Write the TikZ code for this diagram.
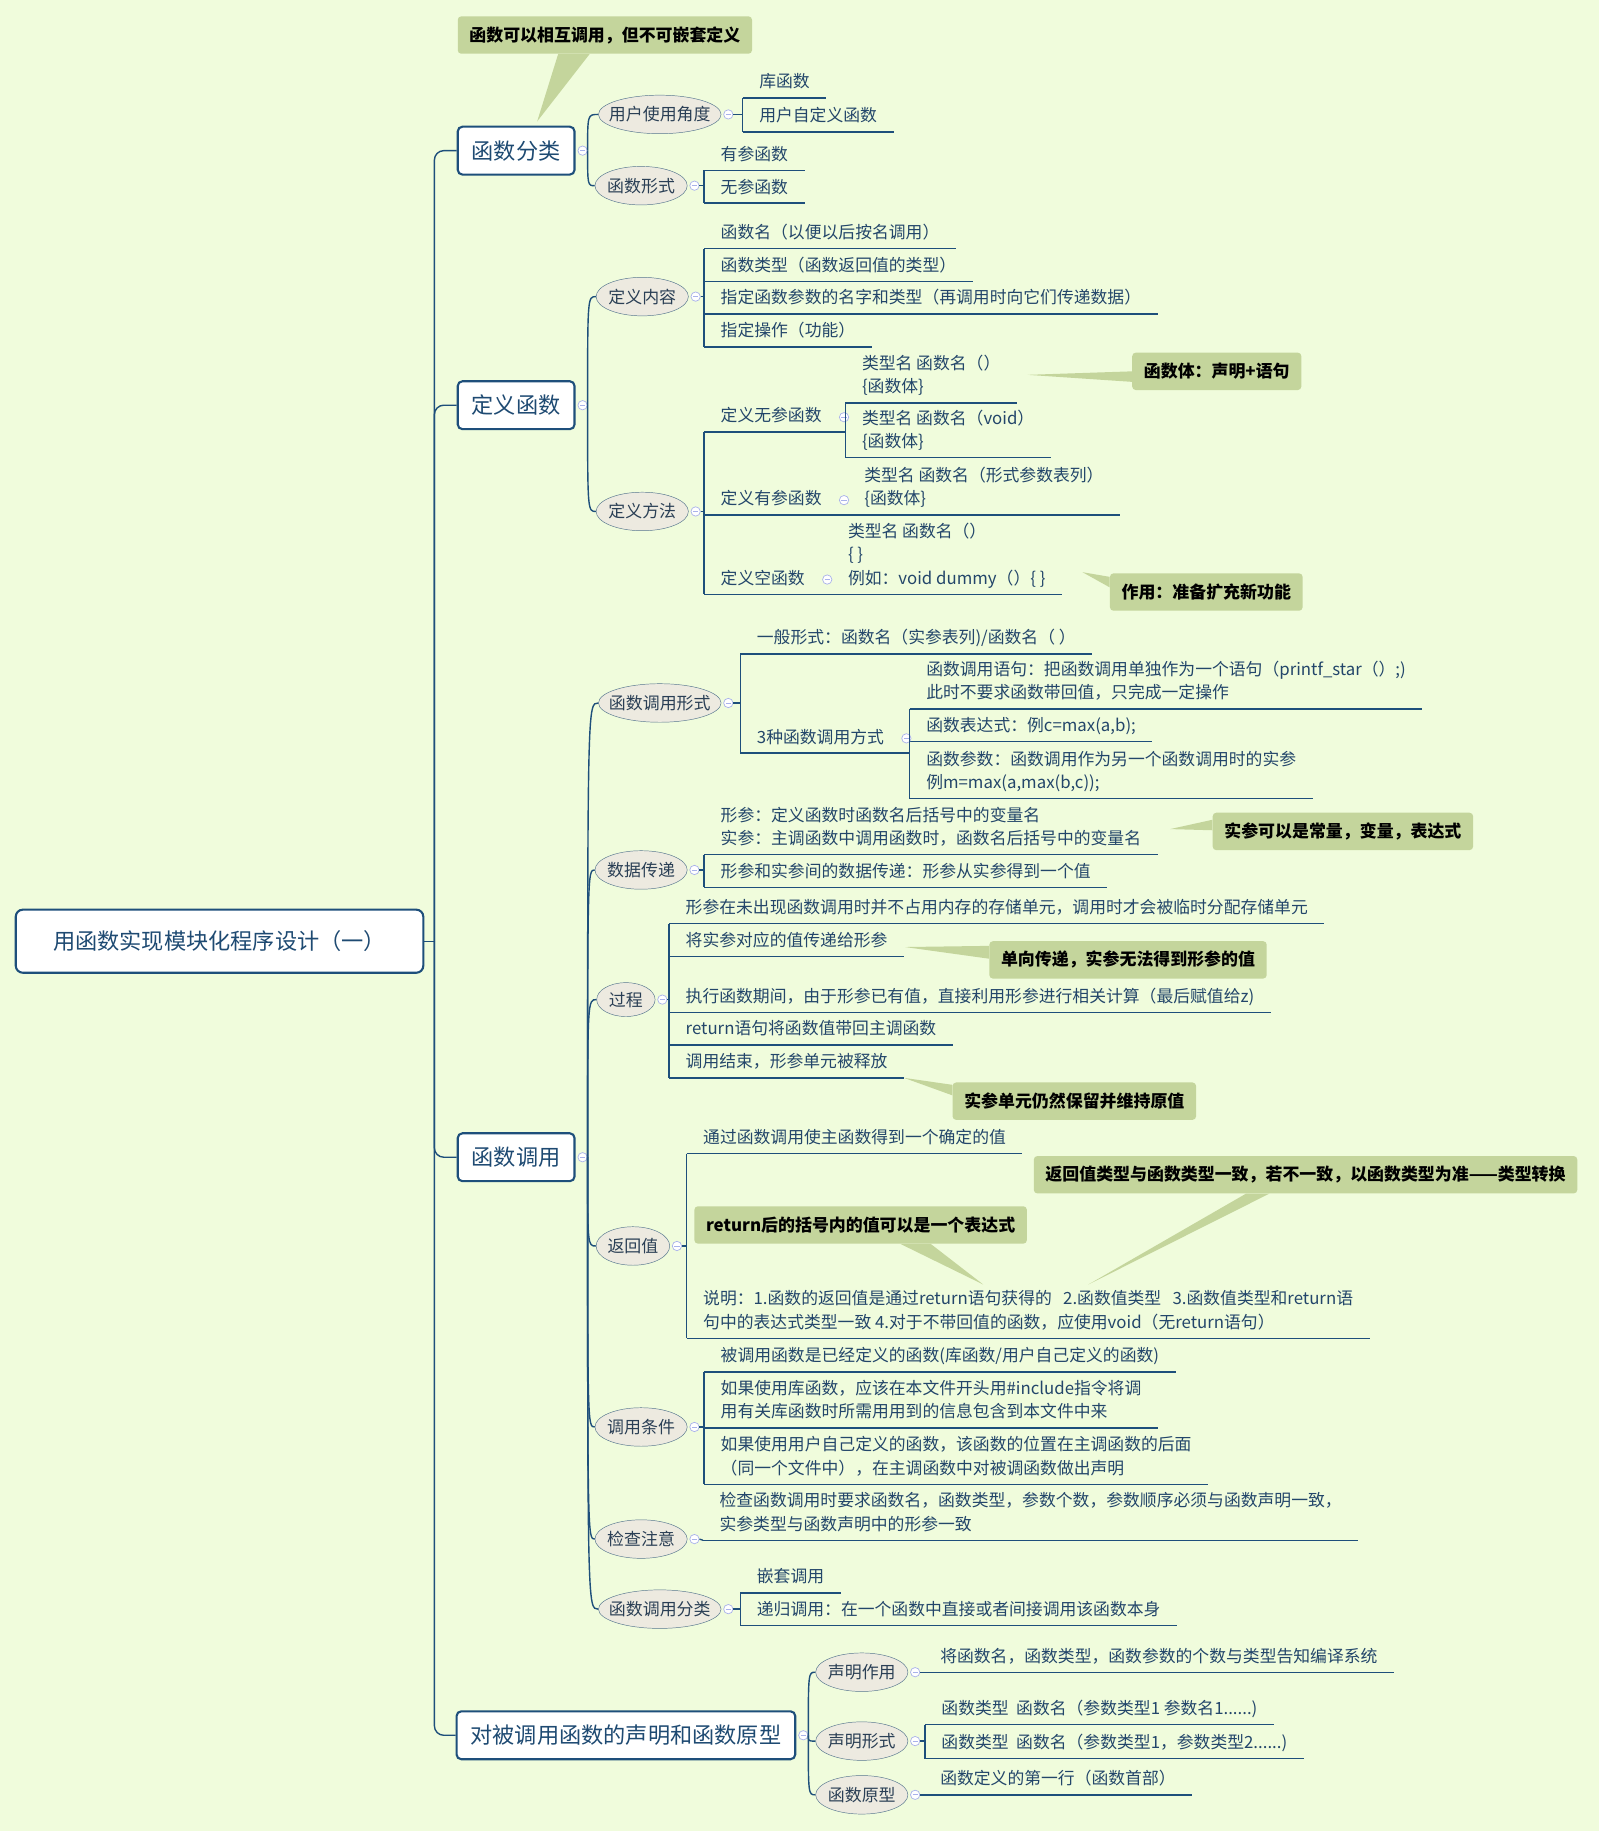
\documentclass[tikz,border=0pt]{standalone}
\usepackage{fontspec}
\setmainfont{Noto Sans CJK SC}
\usetikzlibrary{shapes.geometric, calc}
\definecolor{mapbg}{HTML}{F0FCDC}
\definecolor{mapline}{HTML}{1E4F7B}
\definecolor{topictext}{HTML}{1E4A72}
\definecolor{leaftext}{HTML}{23466A}
\definecolor{ellfill}{HTML}{EDEAE0}
\definecolor{ellborder}{HTML}{56768E}
\definecolor{elltext}{HTML}{2A3F55}
\definecolor{notefill}{HTML}{C4D59C}
\definecolor{foldline}{HTML}{A9B2EA}

\begin{document}
\begin{tikzpicture}[x=1pt, y=-1pt,
    rootbox/.style={rectangle, rounded corners=6pt, draw=mapline, line width=1.8pt, fill=white, text=topictext, font=\fontsize{19}{24}\selectfont, minimum width=349pt, minimum height=54pt},
    topic/.style={rectangle, rounded corners=4pt, draw=mapline, line width=1.8pt, fill=white, text=topictext, font=\fontsize{19}{24}\selectfont, minimum height=41pt, inner xsep=12pt},
    sub/.style={ellipse, draw=ellborder, fill=ellfill, text=elltext, font=\fontsize{14.5}{18}\selectfont, inner xsep=-7pt, inner ysep=0pt, minimum height=33pt, minimum width=#1},
    sub/.default=79pt,
    link/.style={draw=mapline, line width=1.2pt},
    leaf/.style={anchor=south west, inner xsep=14pt, inner ysep=2.5pt, align=left, text=leaftext, font=\fontsize{14.4}{20}\selectfont, execute at begin node=\strut, execute at end node=\strut, append after command={(\tikzlastnode.south west) edge[link] (\tikzlastnode.south east)}},
    fold/.style={circle, draw=foldline, fill=white, line width=0.6pt, inner sep=0pt, minimum size=8pt, path picture={\draw[foldline, line width=0.6pt] ([xshift=-2.2pt]path picture bounding box.center) -- ([xshift=2.2pt]path picture bounding box.center);}},
    note/.style={rectangle, rounded corners=3pt, fill=notefill, text=black, font=\bfseries\fontsize{14.5}{18}\selectfont, inner xsep=10pt, minimum height=32pt},
  ]
  \fill[mapbg] (0,0) rectangle (1369,1568);
  \useasboundingbox (0,0) rectangle (1369,1568);

  \node[rootbox] (root) at (188,806) {用函数实现模块化程序设计（一）};
  \node[topic] (tcls) at (442,129) {函数分类};
  \node[topic] (tdef) at (442,347) {定义函数};
  \node[topic] (tcall) at (442,991) {函数调用};
  \node[topic] (tdecl) at (536,1486) {对被调用函数的声明和函数原型};
  \coordinate (trunk) at (372,806);

  \node[sub=105pt] (yonghu) at (565,98) {用户使用角度};
  \node[sub] (xingshi) at (549,159) {函数形式};
  \node[sub] (neirong) at (550,254) {定义内容};
  \node[sub] (fangfa) at (550,438) {定义方法};
  \node[sub=105pt] (xsform) at (565,602) {函数调用形式};
  \node[sub] (chuandi) at (549,745) {数据传递};
  \node[sub=50pt, minimum height=29pt] (guocheng) at (536,856) {过程};
  \node[sub=63pt] (fanhui) at (542,1067) {返回值};
  \node[sub] (tiaojian) at (549,1222) {调用条件};
  \node[sub] (jiancha) at (549,1318) {检查注意};
  \node[sub=105pt] (fenlei) at (565,1378) {函数调用分类};
  \node[sub] (zuoyong) at (738,1432) {声明作用};
  \node[sub] (xsdecl) at (738,1491) {声明形式};
  \node[sub] (yuanxing) at (738,1537) {函数原型};

  \node[leaf] (a1) at (636,84) {库函数};
  \node[leaf] (a2) at (636,113) {用户自定义函数};
  \node[leaf] (a3) at (603,146) {有参函数};
  \node[leaf] (a4) at (603,174) {无参函数};

  \node[leaf] (b1) at (603,213) {函数名（以便以后按名调用）};
  \node[leaf] (b2) at (603,241) {函数类型（函数返回值的类型）};
  \node[leaf] (b3) at (603,269) {指定函数参数的名字和类型（再调用时向它们传递数据）};
  \node[leaf] (b4) at (603,297) {指定操作（功能）};
  \node[leaf] (b5) at (603,370) {定义无参函数};
  \node[leaf] (b51) at (724,345) {类型名 函数名（）\\\{函数体\}};
  \node[leaf] (b52) at (724,392) {类型名 函数名（void）\\\{函数体\}};
  \node[leaf] (b6) at (603,441) {定义有参函数};
  \node[leaf] (b61) at (726,441) {类型名 函数名（形式参数表列）\\\{函数体\}};
  \node[leaf] (b7) at (603,509) {定义空函数};
  \node[leaf] (b71) at (712,509) {类型名 函数名（）\\\{ \}\\例如：void dummy（）\{ \}};

  \node[leaf] (c1) at (634,560) {一般形式：函数名（实参表列)/函数名（ ）};
  \node[leaf] (c2) at (634,645) {3种函数调用方式};
  \node[leaf] (c21) at (779,607) {函数调用语句：把函数调用单独作为一个语句（printf\_star（）;)\\此时不要求函数带回值，只完成一定操作};
  \node[leaf] (c22) at (779,635) {函数表达式：例c=max(a,b);};
  \node[leaf] (c23) at (779,684) {函数参数：函数调用作为另一个函数调用时的实参\\例m=max(a,max(b,c));};

  \node[leaf] (d1) at (603,732) {形参：定义函数时函数名后括号中的变量名\\实参：主调函数中调用函数时，函数名后括号中的变量名};
  \node[leaf] (d2) at (603,760) {形参和实参间的数据传递：形参从实参得到一个值};

  \node[leaf] (g1) at (573,791) {形参在未出现函数调用时并不占用内存的存储单元，调用时才会被临时分配存储单元};
  \node[leaf] (g2) at (573,819) {将实参对应的值传递给形参};
  \node[leaf] (g3) at (573,867) {执行函数期间，由于形参已有值，直接利用形参进行相关计算（最后赋值给z)};
  \node[leaf] (g4) at (573,895) {return语句将函数值带回主调函数};
  \node[leaf] (g5) at (573,923) {调用结束，形参单元被释放};

  \node[leaf] (r1) at (588,988) {通过函数调用使主函数得到一个确定的值};
  \node[leaf] (r2) at (588,1146) {说明：1.函数的返回值是通过return语句获得的\ \ \ 2.函数值类型\ \ \ 3.函数值类型和return语\\句中的表达式类型一致 4.对于不带回值的函数，应使用void（无return语句）};

  \node[leaf] (q1) at (603,1175) {被调用函数是已经定义的函数(库函数/用户自己定义的函数)};
  \node[leaf] (q2) at (603,1223) {如果使用库函数，应该在本文件开头用\#include指令将调\\用有关库函数时所需用用到的信息包含到本文件中来};
  \node[leaf] (q3) at (603,1271) {如果使用用户自己定义的函数，该函数的位置在主调函数的后面\\ （同一个文件中），在主调函数中对被调函数做出声明};

  \node[leaf] (j1) at (602,1319) {检查函数调用时要求函数名，函数类型，参数个数，参数顺序必须与函数声明一致，\\实参类型与函数声明中的形参一致};

  \node[leaf] (f1) at (634,1364) {嵌套调用};
  \node[leaf] (f2) at (634,1392) {递归调用：在一个函数中直接或者间接调用该函数本身};

  \node[leaf] (s1) at (791,1432) {将函数名，函数类型，函数参数的个数与类型告知编译系统};
  \node[leaf] (s2) at (792,1477) {函数类型\ \ 函数名（参数类型1 参数名1......)};
  \node[leaf] (s3) at (792,1506) {函数类型\ \ 函数名（参数类型1，参数类型2......)};
  \node[leaf] (s4) at (791,1537) {函数定义的第一行（函数首部）};

  \node[fold] (k-tcls) at ([xshift=6pt]tcls.east) {};
  \node[fold] (k-tdef) at ([xshift=6pt]tdef.east) {};
  \node[fold] (k-tcall) at ([xshift=6pt]tcall.east) {};
  \node[fold] (k-tdecl) at ([xshift=6pt]tdecl.east) {};
  \node[fold] (k-yonghu) at ([xshift=6pt]yonghu.east) {};
  \node[fold] (k-xingshi) at ([xshift=6pt]xingshi.east) {};
  \node[fold] (k-neirong) at ([xshift=6pt]neirong.east) {};
  \node[fold] (k-fangfa) at ([xshift=6pt]fangfa.east) {};
  \node[fold] (k-xsform) at ([xshift=6pt]xsform.east) {};
  \node[fold] (k-chuandi) at ([xshift=6pt]chuandi.east) {};
  \node[fold] (k-guocheng) at ([xshift=6pt]guocheng.east) {};
  \node[fold] (k-fanhui) at ([xshift=6pt]fanhui.east) {};
  \node[fold] (k-tiaojian) at ([xshift=6pt]tiaojian.east) {};
  \node[fold] (k-jiancha) at ([xshift=6pt]jiancha.east) {};
  \node[fold] (k-fenlei) at ([xshift=6pt]fenlei.east) {};
  \node[fold] (k-zuoyong) at ([xshift=6pt]zuoyong.east) {};
  \node[fold] (k-xsdecl) at ([xshift=6pt]xsdecl.east) {};
  \node[fold] (k-yuanxing) at ([xshift=6pt]yuanxing.east) {};
  \node[fold] (k-b5) at ([xshift=5pt]b5.east) {};
  \node[fold] (k-b6) at ([xshift=5pt]b6.east) {};
  \node[fold] (k-b7) at ([xshift=5pt]b7.east) {};
  \node[fold] (k-c2) at ([xshift=5pt]c2.east) {};

  \draw[link] (root.east) -- (trunk);
  \draw[link, rounded corners=8pt] (trunk) |- (tcls.west);
  \draw[link, rounded corners=8pt] (trunk) |- (tdef.west);
  \draw[link, rounded corners=8pt] (trunk) |- (tcall.west);
  \draw[link, rounded corners=8pt] (trunk) |- (tdecl.west);

  \draw[link] (k-tcls.east) .. controls (k-tcls.east |- yonghu.west) .. (yonghu.west);
  \draw[link] (k-tcls.east) .. controls (k-tcls.east |- xingshi.west) .. (xingshi.west);
  \draw[link] (k-tdef.east) .. controls (k-tdef.east |- neirong.west) .. (neirong.west);
  \draw[link] (k-tdef.east) .. controls (k-tdef.east |- fangfa.west) .. (fangfa.west);
  \draw[link] (k-tcall.east) .. controls (k-tcall.east |- xsform.west) .. (xsform.west);
  \draw[link] (k-tcall.east) .. controls (k-tcall.east |- chuandi.west) .. (chuandi.west);
  \draw[link] (k-tcall.east) .. controls (k-tcall.east |- guocheng.west) .. (guocheng.west);
  \draw[link] (k-tcall.east) .. controls (k-tcall.east |- fanhui.west) .. (fanhui.west);
  \draw[link] (k-tcall.east) .. controls (k-tcall.east |- tiaojian.west) .. (tiaojian.west);
  \draw[link] (k-tcall.east) .. controls (k-tcall.east |- jiancha.west) .. (jiancha.west);
  \draw[link] (k-tcall.east) .. controls (k-tcall.east |- fenlei.west) .. (fenlei.west);
  \draw[link] (k-tdecl.east) .. controls (k-tdecl.east |- zuoyong.west) .. (zuoyong.west);
  \draw[link] (k-tdecl.east) .. controls (k-tdecl.east |- xsdecl.west) .. (xsdecl.west);
  \draw[link] (k-tdecl.east) .. controls (k-tdecl.east |- yuanxing.west) .. (yuanxing.west);

  \draw[link] (k-yonghu.east) -- (k-yonghu.east -| a1.south west);
  \draw[link] (a1.south west) -- (a2.south west);
  \draw[link] (k-xingshi.east) -- (k-xingshi.east -| a3.south west);
  \draw[link] (a3.south west) -- (a4.south west);
  \draw[link] (k-neirong.east) -- (k-neirong.east -| b1.south west);
  \draw[link] (b1.south west) -- (b4.south west);
  \draw[link] (k-fangfa.east) -- (k-fangfa.east -| b5.south west);
  \draw[link] (b5.south west) -- (b7.south west);
  \draw[link] (b5.south east) -- (b5.south east -| b51.south west);
  \draw[link] (b51.south west) -- (b52.south west);
  \draw[link] (b6.south east) -- (b61.south west);
  \draw[link] (b7.south east) -- (b71.south west);
  \draw[link] (k-xsform.east) -- (k-xsform.east -| c1.south west);
  \draw[link] (c1.south west) -- (c2.south west);
  \draw[link] (c2.south east) -- (c2.south east -| c21.south west);
  \draw[link] (c21.south west) -- (c23.south west);
  \draw[link] (k-chuandi.east) -- (k-chuandi.east -| d1.south west);
  \draw[link] (d1.south west) -- (d2.south west);
  \draw[link] (k-guocheng.east) -- (k-guocheng.east -| g1.south west);
  \draw[link] (g1.south west) -- (g5.south west);
  \draw[link] (k-fanhui.east) -- (k-fanhui.east -| r1.south west);
  \draw[link] (r1.south west) -- (r2.south west);
  \draw[link] (k-tiaojian.east) -- (k-tiaojian.east -| q1.south west);
  \draw[link] (q1.south west) -- (q3.south west);
  \draw[link] (k-jiancha.east) -- (j1.south west);
  \draw[link] (k-fenlei.east) -- (k-fenlei.east -| f1.south west);
  \draw[link] (f1.south west) -- (f2.south west);
  \draw[link] (k-zuoyong.east) -- (s1.south west);
  \draw[link] (k-xsdecl.east) -- (k-xsdecl.east -| s2.south west);
  \draw[link] (s2.south west) -- (s3.south west);
  \draw[link] (k-yuanxing.east) -- (s4.south west);

  \node[note] (n-nest) at (518,30) {函数可以相互调用，但不可嵌套定义};
  \node[note] (n-body) at (1042,318) {函数体：声明+语句};
  \node[note] (n-empty) at (1033,507) {作用：准备扩充新功能};
  \node[note] (n-actual) at (1150,712) {实参可以是常量，变量，表达式};
  \node[note] (n-oneway) at (966,822) {单向传递，实参无法得到形参的值};
  \node[note] (n-keep) at (920,943) {实参单元仍然保留并维持原值};
  \node[note] (n-retexpr) at (737,1049) {return后的括号内的值可以是一个表达式};
  \node[note] (n-rettype) at (1118,1006) {返回值类型与函数类型一致，若不一致，以函数类型为准——类型转换};

  \coordinate (p-nest) at (460,104);
  \coordinate (p-body) at (880,321);
  \coordinate (p-empty) at (927,490);
  \coordinate (p-actual) at (1002,710);
  \coordinate (p-oneway) at (775,811);
  \coordinate (p-keep) at (774,923);
  \coordinate (p-retexpr) at (842,1100);
  \coordinate (p-rettype) at (932,1100);

  \fill[notefill] ([xshift=-40pt]n-nest.south) -- (p-nest) -- ([xshift=-13pt]n-nest.south) -- cycle;
  \fill[notefill] (n-body.west) -- (p-body) -- ([yshift=-9pt]n-body.west) -- cycle;
  \fill[notefill] ([yshift=13pt]n-empty.west) -- (p-empty) -- ([yshift=4pt]n-empty.west) -- cycle;
  \fill[notefill] ([yshift=10pt]n-actual.west) -- (p-actual) -- ([yshift=1pt]n-actual.west) -- cycle;
  \fill[notefill] ([yshift=12pt]n-oneway.west) -- (p-oneway) -- ([yshift=1pt]n-oneway.west) -- cycle;
  \fill[notefill] ([yshift=14pt]n-keep.west) -- (p-keep) -- ([yshift=5pt]n-keep.west) -- cycle;
  \fill[notefill] ([xshift=34pt]n-retexpr.south) -- (p-retexpr) -- ([xshift=60pt]n-retexpr.south) -- cycle;
  \fill[notefill] ([xshift=-51pt]n-rettype.south) -- (p-rettype) -- ([xshift=-31pt]n-rettype.south) -- cycle;
\end{tikzpicture}
\end{document}
